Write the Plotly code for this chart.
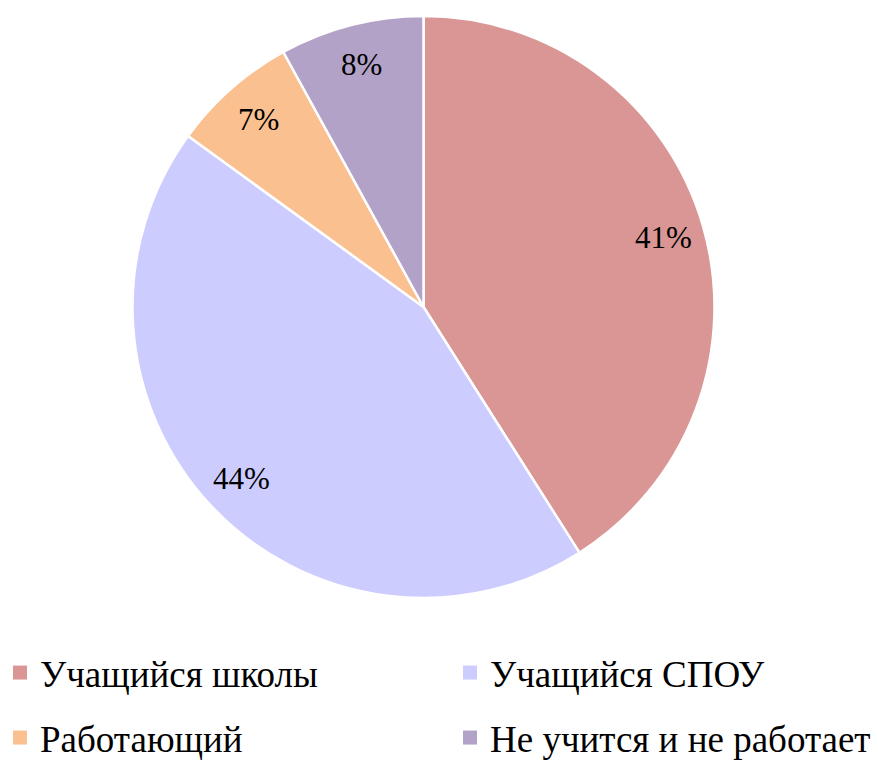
import math
import plotly.graph_objects as go

labels = ["Учащийся школы", "Учащийся СПОУ", "Работающий", "Не учится и не работает"]
values = [41, 44, 7, 8]
colors = ["#D99694", "#CCCCFF", "#FAC090", "#B3A2C7"]

FONT = "Liberation Serif, Times New Roman, serif"
W, H = 878, 760

# pie domain in pixels (left, right, top, bottom)
PL, PR, PT, PB = 132, 715, 16, 598

fig = go.Figure()
fig.add_trace(go.Pie(
    labels=labels, values=values, sort=False, direction="clockwise", rotation=0,
    marker=dict(colors=colors, line=dict(color="white", width=2.5)),
    textinfo="none",
    showlegend=False, hoverinfo="label+percent",
    domain=dict(x=[PL / W, PR / W], y=[1 - PB / H, 1 - PT / H]),
))

# percentage labels placed at ~0.86 of radius along each slice's mid-angle
cx, cy = (PL + PR) / 2, (PT + PB) / 2
R = min(PR - PL, PB - PT) / 2
total = sum(values)
cum = 0
for v in values:
    mid = (cum + v / 2) / total * 2 * math.pi
    cum += v
    px = cx + 0.86 * R * math.sin(mid)
    py = cy - 0.86 * R * math.cos(mid)
    fig.add_annotation(
        x=px / W, y=1 - py / H, xref="paper", yref="paper",
        text=f"{round(v / total * 100)}%", showarrow=False,
        font=dict(family=FONT, size=31, color="black"),
        xanchor="center", yanchor="middle",
    )

# legend entries (two rows, two columns) — one legend per entry
leg_names = ["legend", "legend2", "legend3", "legend4"]
for i, (lab, col) in enumerate(zip(labels, colors)):
    fig.add_trace(go.Scatter(
        x=[None], y=[None], mode="markers", name=lab,
        marker=dict(symbol="square", size=14, color=col),
        legend=leg_names[i], showlegend=True,
    ))

leg_common = dict(orientation="h", xanchor="left", yanchor="middle",
                  font=dict(family=FONT, size=37, color="black"),
                  bgcolor="rgba(0,0,0,0)", itemwidth=30, indentation=0)
col_x = [0, 450 / W]
row_y = [1 - 673 / H, 1 - 738 / H]

layout_legs = {}
for i, name in enumerate(leg_names):
    layout_legs[name] = dict(x=col_x[i % 2], y=row_y[i // 2], **leg_common)

fig.update_layout(
    width=W, height=H,
    margin=dict(l=0, r=0, t=0, b=0, autoexpand=False),
    paper_bgcolor="white", plot_bgcolor="white",
    xaxis=dict(visible=False), yaxis=dict(visible=False),
    **layout_legs,
)

fig.write_html("out.html", config={"displayModeBar": False},
               post_script="document.body.style.margin='0';document.body.style.overflow='hidden';")
